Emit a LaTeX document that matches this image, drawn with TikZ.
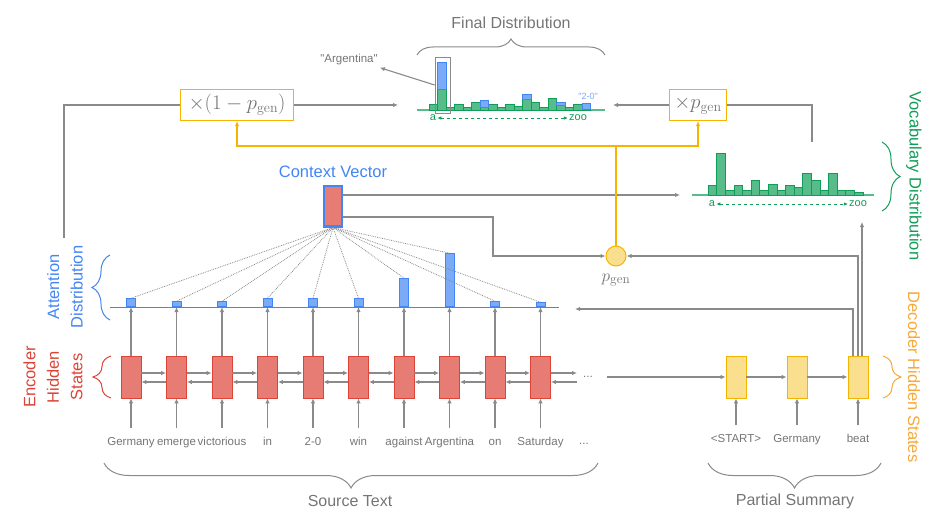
\documentclass[tikz,border=0pt]{standalone}
\usepackage{fontspec}
\newfontfamily\robofont{Liberation Sans}
\usetikzlibrary{arrows.meta,decorations.pathreplacing}

\definecolor{txtgray}{HTML}{757575}
\definecolor{linegray}{HTML}{8A8A8A}
\definecolor{encred}{HTML}{E67C73}
\definecolor{encredline}{HTML}{DB4437}
\definecolor{attblue}{HTML}{4285F4}
\definecolor{attbluefill}{HTML}{7BAAF7}
\definecolor{vocgreen}{HTML}{0F9D58}
\definecolor{vocgreenfill}{HTML}{57BB8A}
\definecolor{decyellow}{HTML}{F4B400}
\definecolor{decyellowfill}{HTML}{FADF8F}
\definecolor{decorange}{HTML}{F6A93B}

\begin{document}
\begin{tikzpicture}[x=1pt,y=-1pt,
    line/.style={draw=linegray, line width=1.1pt},
    arr/.style={line, -{Latex[length=5pt,width=4.5pt]}},
    yline/.style={draw=decyellow, line width=1.1pt},
    yarr/.style={yline, -{Latex[length=5pt,width=4.5pt]}},
    encbox/.style={draw=encredline, fill=encred, line width=0.8pt, minimum width=20pt, minimum height=42pt, inner sep=0pt},
    decbox/.style={draw=decyellow, fill=decyellowfill, line width=0.8pt, minimum width=20pt, minimum height=42pt, inner sep=0pt},
    attbar/.style={draw=attblue, fill=attbluefill, line width=0.8pt, minimum width=9pt, inner sep=0pt, anchor=south},
    greenbar/.style={draw=vocgreen, fill=vocgreenfill, line width=0.6pt},
    bluebar/.style={draw=attblue, fill=attbluefill, line width=0.6pt},
    word/.style={text=txtgray, font=\robofont\fontsize{11.5}{13}\selectfont, inner sep=2pt, text height=8.5pt, text depth=2.5pt},
    small/.style={font=\robofont\fontsize{11}{13}\selectfont, inner sep=1pt},
    biglabel/.style={text=txtgray, font=\robofont\fontsize{16}{19}\selectfont},
    sidelabel/.style={font=\robofont\fontsize{16.5}{23.5}\selectfont, align=center},
    mulbox/.style={draw=decyellow, line width=1pt, text=txtgray, font=\fontsize{20}{24}\selectfont, minimum height=31pt, inner sep=2pt},
    brace/.style={decorate, decoration={brace, amplitude=#1}, line width=1pt}]
\useasboundingbox (0,0) rectangle (937,519);

% encoder
\foreach \i/\w/\h in {1/Germany/8,2/emerge/5,3/victorious/5,4/in/8,5/2-0/8,6/win/8,7/against/28,8/Argentina/53,9/on/5,10/Saturday/4} {
  \pgfmathsetmacro\xx{131+45.5*(\i-1)}
  \node[encbox] (e\i) at (\xx,377) {};
  \node[word] (w\i) at (\xx,442) {\w};
  \node[attbar, minimum height=\h pt] (a\i) at (\xx,307) {};
  \draw[arr, shorten <=6pt] (w\i) -- (e\i);
  \draw[arr] (e\i) -- (a\i.south);
}
\foreach \i [evaluate=\i as \j using int(\i+1)] in {1,...,9} {
  \draw[arr] ([yshift=4pt]e\i.east) -- ([yshift=4pt]e\j.west);
  \draw[arr] ([yshift=-5pt]e\j.west) -- ([yshift=-5pt]e\i.east);
}
\coordinate (fwdend) at (577,373);
\coordinate (bwdstart) at (577,382);
\draw[arr] ([yshift=4pt]e10.east) -- (fwdend);
\draw[arr] (bwdstart) -- ([yshift=-5pt]e10.east);
\node[word] (edots) at (588,374) {...};
\node[word] (wdots) at (584,441) {...};
\draw[attblue, line width=1pt] (110,307) -- (559,307);

% decoder
\foreach \i/\w in {1/<START>,2/Germany,3/beat} {
  \pgfmathsetmacro\xx{736+61*(\i-1)}
  \node[decbox] (d\i) at (\xx,377) {};
  \node[word] (v\i) at (\xx,439) {\w};
  \draw[arr, shorten <=6pt] (v\i) -- (d\i);
}
\coordinate (encout) at (607,377);
\draw[arr] (encout) -- (d1);
\draw[arr] (d1) -- (d2);
\draw[arr] (d2) -- (d3);

% context vector
\node[draw=attblue, line width=2.5pt, fill=encred, minimum width=18pt, minimum height=40.5pt, inner sep=0pt] (ctx) at (333,206) {};
\node[font=\robofont\fontsize{16.5}{19}\selectfont, text=attblue] (ctxlabel) at (333,172) {Context Vector};
\foreach \i in {1,...,10}
  \draw[linegray, densely dotted, line width=0.8pt] (ctx.south) -- (a\i.north);

% p_gen
\node[circle, draw=decyellow, fill=decyellowfill, line width=1pt, minimum size=20pt, inner sep=0pt] (pgen) at (616,256) {};
\node[text=txtgray, font=\fontsize{19}{22}\selectfont] (pgenlabel) at (616,280) {$p_{\mathrm{gen}}$};
\coordinate (ctxbend) at (493,256);
\coordinate (vocin) at (680,195);
\draw[arr] ([yshift=11pt]ctx.east) -- (vocin);
\draw[arr] ([yshift=-11pt]ctx.east) -| (ctxbend) -- (pgen.west);

% multipliers
\node[mulbox, minimum width=113pt] (mulA) at (237,105) {$\times(1-p_{\mathrm{gen}})$};
\node[mulbox, minimum width=57pt] (mulB) at (698,105) {$\times p_{\mathrm{gen}}$};
\coordinate (ybar) at (616,146);
\draw[yline] (pgen) -- (ybar);
\draw[yarr] (ybar) -| (mulA.south);
\draw[yarr] (ybar) -| (mulB.south);
\coordinate (attup) at (64,238);
\coordinate (finalinA) at (398,105);
\coordinate (finalinB) at (613,105);
\coordinate (voctop) at (812,142);
\draw[line] (attup) |- (mulA.west);
\draw[arr] (mulA.east) -- (finalinA);
\draw[arr] (mulB.west) -- (finalinB);
\draw[line] (mulB.east) -| (voctop);

% decoder state outputs
\coordinate (attend) at (575,309);
\coordinate (vocbottom) at (862,222);
\draw[arr] ([xshift=-5pt]d3.north) |- (attend);
\draw[arr] (d3.north) |- (pgen.east);
\draw[arr] ([xshift=4pt]d3.north) -- (vocbottom);

% final distribution
\draw[vocgreenfill, line width=1.2pt] (417,110) -- (605,110);
\foreach \h [count=\n] in {6,21,3,6,3,8,3,6,3,6,4,11,8,3,12,5,3,6,1}
  \draw[greenbar] ({429+8.5*(\n-1)},110) rectangle ++(8.5,-\h);
\foreach \n/\g/\b in {2/21/27,7/3/7,12/11/5,16/5/3,19/1/6}
  \draw[bluebar] ({429+8.5*(\n-1)},{110-\g}) rectangle ++(8.5,-\b);
\node[draw=linegray, line width=0.8pt, minimum width=15pt, minimum height=56pt, inner sep=0pt] (argbox) at (442.5,85) {};
\node[word] (arglabel) at (349,60) {"Argentina"};
\draw[arr] (argbox.west) -- (arglabel.south east);
\node[font=\robofont\fontsize{9}{10}\selectfont, text=attbluefill, inner sep=0pt] (twozero) at (588,96) {"2-0"};
\node[small, text=vocgreen] (fa) at (433,118) {a};
\node[small, text=vocgreen] (fz) at (578,118) {zoo};
\draw[vocgreen, dashed, line width=0.8pt, {Latex[length=4pt,width=3.5pt]}-{Latex[length=4pt,width=3.5pt]}] (fa) -- (fz);
\draw[brace=16pt, linegray] (417,55) -- (605,55);
\node[biglabel] (finallabel) at (511,23) {Final Distribution};

% vocabulary distribution
\draw[vocgreenfill, line width=1.2pt] (692,195) -- (874,195);
\foreach \h [count=\n] in {10,42,5,10,5,15,5,11,5,10,8,22,15,5,22,5,5,3}
  \draw[greenbar] ({708+8.6*(\n-1)},195) rectangle ++(8.6,-\h);
\node[small, text=vocgreen] (va) at (712,204) {a};
\node[small, text=vocgreen] (vz) at (858,204) {zoo};
\draw[vocgreen, dashed, line width=0.8pt, {Latex[length=4pt,width=3.5pt]}-{Latex[length=4pt,width=3.5pt]}] (va) -- (vz);
\draw[brace=18pt, vocgreen] (882,142) -- (882,211);
\node[sidelabel, text=vocgreen, rotate=-90] (voclabel) at (914,176) {Vocabulary Distribution};

% side labels and braces
\draw[brace=18pt, decorange] (883,356) -- (883,398);
\node[sidelabel, text=decorange, rotate=-90] (declabel) at (914,377) {Decoder Hidden States};
\draw[brace=18pt, attblue] (110,320) -- (110,255);
\node[sidelabel, text=attblue, rotate=90] (attlabel) at (65,287) {Attention\\Distribution};
\draw[brace=18pt, encredline] (111,398) -- (111,356);
\node[sidelabel, text=encredline, rotate=90] (enclabel) at (53,377) {Encoder\\Hidden\\States};
\draw[brace=25pt, linegray] (598,463) -- (104,463);
\node[biglabel] (srclabel) at (350,501) {Source Text};
\draw[brace=25pt, linegray] (881,463) -- (708,463);
\node[biglabel] (sumlabel) at (795,501) {Partial Summary};
\end{tikzpicture}
\end{document}
